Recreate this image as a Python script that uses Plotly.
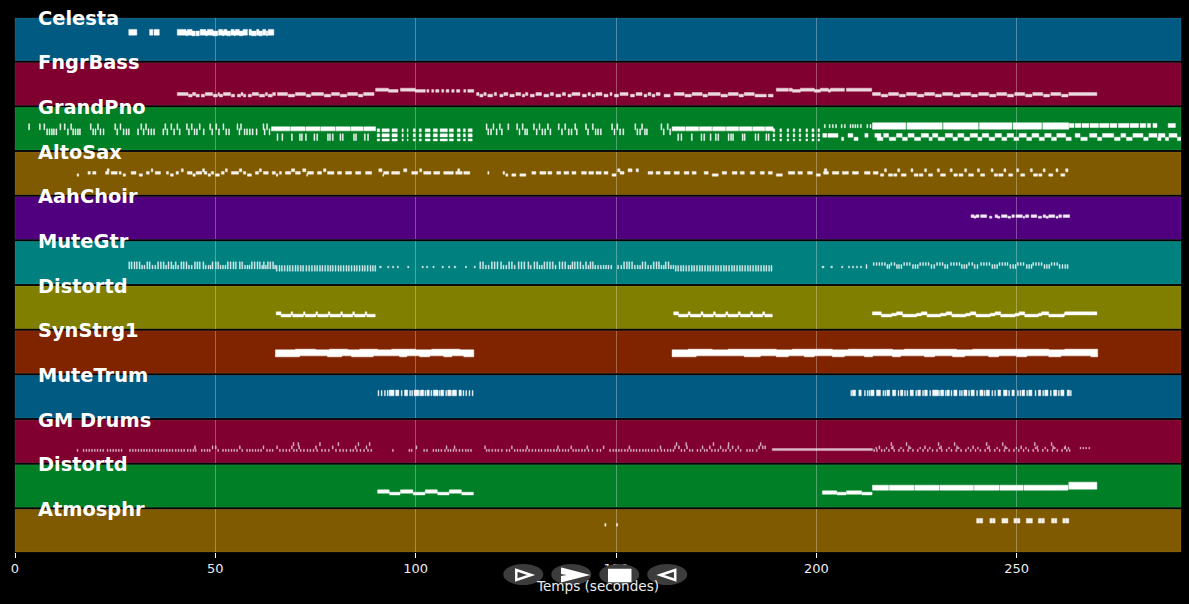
import plotly.graph_objects as go
from plotly.subplots import make_subplots

TICK_LEN = 0.22
X_TICKS = [0, 50, 100, 150, 200, 250]
X_MAX = 291

NAMES = ["Celesta", "FngrBass", "GrandPno", "AltoSax", "AahChoir", "MuteGtr",
         "Distortd", "SynStrg1", "MuteTrum", "GM Drums", "Distortd", "Atmosphr"]
COLORS = ["#005a82", "#80002f", "#007f26", "#805a00", "#50007f", "#00807f",
          "#807f00", "#802400", "#005a82", "#80002f", "#007f26", "#805a00"]
NOTE_OPACITY = [1, 0.85, 1, 0.92, 0.92, 0.88, 1, 1, 0.95, 0.72, 1, 0.92]

# A span is either (start, end) in seconds or one start time for a very short note.
celesta_main = [(28.4, 30.4), (33.6, 34.4), (34.7, 36.0), (40.5, 42.7), (43.0, 44.2), (46.2, 47.6),
                (48.0, 49.4), (50.8, 51.8), (52.1, 52.9), (53.9, 54.7), (55.0, 56.0), (56.9, 58.0),
                (58.4, 59.0), (60.3, 60.9), (61.8, 62.6), (63.2, 64.6)]
celesta_low = [(44.3, 45.0), (45.2, 46.0), (47.6, 48.0), (49.5, 50.6), (52.9, 53.8), (59.0, 60.2),
               (61.0, 61.7), (62.7, 63.1), (42.7, 43.0), (44.2, 44.4), (49.4, 49.6), (51.8, 52.1), (54.7, 55.0),
               (56.0, 56.9), (60.9, 61.0)]
bass_row = [(40.5, 43.2), (44.3, 45.1), (47.5, 49.3), (50.7, 51.0), (52.0, 53.8), (56.4, 56.9),
            (59.2, 60.8), (62.5, 63.0), (64.3, 65.0), (65.5, 68.0), (70.0, 72.5), (74.0, 77.0),
            (79.0, 81.0), (83.0, 85.5), (87.0, 89.6), (115.2, 115.8), (117.0, 117.6), (119.6, 120.2),
            (122.0, 123.0), (125.0, 126.2), (127.4, 128.0), (130.0, 131.4), (133.6, 134.4), (136.6, 137.4),
            (139.0, 141.0), (143.0, 143.6), (145.0, 146.5), (148.5, 149.0), (151.0, 153.0), (155.0, 156.5),
            (158.0, 158.7), (160.0, 161.0), (164.5, 167.0), (169.0, 171.5), (173.0, 176.0), (178.0, 180.5),
            (182.0, 184.5), (214.0, 216.0), (218.0, 220.5), (222.5, 225.0), (227.0, 229.5), (231.5, 234.0),
            (236.0, 238.5), (240.5, 243.0), (245.0, 247.5), (249.5, 252.0), (254.0, 256.5), (258.5, 261.0),
            (263.0, 270.0)]
bass_low = [(43.3, 44.2), (45.2, 46.0), (46.5, 47.3), (49.5, 50.5), (51.0, 51.8), (54.0, 54.8),
            (55.5, 56.3), (57.0, 57.6), (58.2, 59.0), (61.0, 62.3), (63.2, 64.2), (68.2, 69.8),
            (72.7, 73.8), (77.2, 78.8), (81.2, 82.8), (85.7, 86.8), (116.0, 116.8), (118.0, 119.2),
            (121.0, 121.8), (123.5, 124.6), (126.6, 127.2), (128.6, 129.6), (132.0, 133.2), (135.0, 136.2),
            (138.0, 138.8), (141.6, 142.6), (144.0, 144.7), (147.0, 148.0), (149.6, 150.6), (153.6, 154.6),
            (157.0, 157.7), (159.0, 159.7), (162.0, 163.5), (167.2, 168.8), (171.7, 172.8), (176.2, 177.8),
            (180.7, 181.8), (184.7, 187.5), (188.0, 189.2), (216.2, 217.8), (220.7, 222.2), (225.2, 226.8),
            (229.7, 231.2), (234.2, 235.8), (238.7, 240.2), (243.2, 244.8), (247.7, 249.2), (252.2, 253.8),
            (256.7, 258.2), (261.2, 262.8)]
bass_high = [(90.0, 93.2), (96.2, 99.9), (190.0, 193.0), (193.2, 194.0), (196.0, 199.5), (201.0, 203.0),
             (203.5, 207.0), (207.5, 213.8)]
bass_mid = [(93.2, 95.6), (99.9, 102.4), (102.8, 103.3), (104.0, 104.5), (105.0, 105.8), (106.5, 107.0),
            (107.6, 108.3), (109.0, 109.6), (110.2, 111.0), (112.0, 112.5), (113.0, 114.5), (194.0, 196.0),
            (199.5, 201.0), (203.0, 203.5)]

piano_upper = [3.4, 6.1, 7.2, 11.2, 12.3, 13.9, 18.8, 20.6, 24.9, 26.2, 31.4, 32.6, 37.4, 38.9, 40.4,
               42.8, 44.0, 46.0, 48.6, 50.1, 51.9, 55.4, 56.3, 61.9, 62.8, 117.6, 119.3, 120.9, 123.0,
               125.2, 126.6, 129.4, 130.8, 132.9, 135.6, 137.2, 139.7, 142.4, 144.1, 148.9, 150.2, 154.7,
               156.4, 161.2, 162.8]
piano_lower = [7.9, 8.5, 9.1, 9.6, 10.2, 13.1, 14.4, 15.0, 15.6, 16.1, 19.4, 20.0, 21.2, 22.0, 25.4,
               27.0, 27.7, 28.3, 30.6, 32.0, 33.2, 33.9, 34.6, 36.9, 37.9, 39.6, 41.0, 43.3, 44.7, 45.3,
               47.0, 49.1, 50.8, 52.6, 53.3, 55.9, 57.2, 57.8, 58.5, 59.2, 60.2, 62.2, 63.4, 118.0,
               118.7, 120.1, 121.4, 125.8, 127.2, 127.7, 130.1, 131.5, 132.2, 133.5, 136.4, 138.1, 138.8,
               140.1, 142.9, 144.8, 145.4, 146.1, 149.5, 150.9, 151.7, 155.2, 155.9, 157.1, 157.6, 161.8,
               163.4]
piano_row_a = [(64.0, 68.6), (68.8, 72.4), (72.6, 76.1), (76.3, 79.9), (80.1, 83.6), (83.8, 86.9), (87.1, 90.0),
               (164.0, 167.2), (167.4, 170.6), (170.8, 173.9), (174.1, 177.3), (177.5, 180.6), (180.8, 183.9),
               (184.1, 187.1), (187.3, 189.2)]
piano_lower_ticks = [65.4, 66.6, 69.0, 71.0, 71.5, 72.5, 74.6, 75.3, 78.0, 78.5, 79.2, 81.1, 81.7, 84.5, 85.0,
                     87.2, 88.0, 165.4, 166.2, 168.8, 171.2, 171.9, 173.5, 174.8, 175.4, 178.0, 178.6, 179.1,
                     181.5, 182.0, 184.7, 185.4, 187.4, 188.0]
piano_col_a = [(90.4, 91.0), (91.6, 93.4), (94.1, 95.4), (96.6, 96.9), (97.9, 98.1), (99.4, 99.9), (100.9, 101.4),
               (102.4, 103.6), (104.4, 105.4), (106.1, 107.9), (108.4, 109.4), (110.4, 111.1), (111.9, 112.4),
               (113.1, 114.1), (189.2, 189.6), (190.9, 191.3), (192.7, 193.1), (194.2, 194.6), (195.7, 196.1),
               (197.4, 197.8), (198.9, 199.4), (200.4, 200.8)]
piano_col_rows = [(54, 63), (39, 48), (27, 33)]
piano_top_ticks = [202.0, 203.2, 204.0, 204.8, 206.2, 207.0, 208.4, 209.0, 209.6, 210.2, 211.0, 212.6, 213.4]
piano_top_thick = [(214.0, 222.3), (222.6, 231.4), (231.7, 240.4), (240.7, 248.8), (249.1, 256.2), (256.5, 263.0)]
piano_top_thin = [(263.1, 264.3), (264.6, 266.0), (266.3, 268.0), (268.3, 270.4), (270.7, 273.0), (273.3, 275.0),
                  (275.4, 278.0), (278.3, 280.4), (280.8, 282.2), (282.6, 283.4), (284.0, 285.0), (287.8, 289.6)]
piano_mid_a = [(201.6, 202.6), (202.9, 205.4), (207.9, 209.1), (212.1, 212.9), (214.6, 216.1), (216.8, 218.0),
               (220.0, 221.4), (222.9, 224.4), (226.2, 228.0), (229.0, 230.3), (232.2, 234.0), (235.3, 236.8),
               (238.4, 240.2), (241.4, 243.0), (244.6, 246.2), (247.6, 249.2), (250.6, 252.4), (253.8, 255.5),
               (257.0, 258.6), (260.0, 262.2), (264.6, 265.8), (268.2, 270.0), (271.4, 274.2), (276.0, 277.2),
               (279.0, 281.5), (283.0, 285.0), (285.4, 287.0), (288.0, 290.0)]
piano_mid_b = [(206.3, 206.8), (209.4, 210.4), (215.2, 216.6), (218.2, 219.8), (221.5, 222.7), (224.5, 226.0),
               (228.1, 228.9), (230.4, 232.0), (234.1, 235.2), (236.9, 238.2), (240.3, 241.3), (243.1, 244.5),
               (246.3, 247.5), (249.3, 250.5), (252.5, 253.7), (255.6, 256.9), (258.7, 259.9), (262.3, 263.6),
               (266.0, 267.6), (270.2, 271.2), (274.4, 275.8), (277.4, 278.8), (281.7, 282.8), (285.2, 286.0),
               (287.1, 287.9), (290.1, 291.0)]

sax_mid = [(18.2, 18.8), (19.4, 20.2), (22.6, 23.4), (24.0, 25.5), (26.0, 26.5), (29.0, 30.2), (32.8, 33.5),
           (35.0, 36.3), (37.8, 38.3), (40.2, 40.8), (43.0, 44.2), (45.2, 46.6), (47.2, 47.9), (49.0, 49.6),
           (51.5, 52.2), (54.0, 55.8), (57.0, 57.6), (60.0, 60.8), (62.0, 63.2), (64.2, 65.0), (66.0, 66.5),
           (67.5, 68.8), (70.0, 71.2), (73.0, 74.5), (75.5, 76.5), (78.0, 79.6), (80.5, 81.5), (82.5, 84.0),
           (85.0, 86.3), (87.5, 89.0), (92.0, 93.3), (94.0, 96.0), (99.0, 100.5), (102.0, 103.8), (104.5, 106.0),
           (107.0, 109.4), (110.0, 111.6), (112.0, 113.5), (118.0, 118.3), (121.8, 122.2), (121.9, 122.0),
           (129.0, 130.0), (131.0, 132.5), (133.0, 134.0), (135.2, 136.2), (137.0, 138.2), (139.0, 140.0),
           (141.4, 142.6), (143.2, 144.4), (145.0, 146.3), (147.0, 148.0), (151.0, 152.0), (158.0, 159.2),
           (160.0, 161.0), (162.0, 163.5), (164.5, 165.8), (167.0, 168.2), (169.0, 170.0), (172.0, 173.0),
           (176.5, 177.6), (179.0, 180.2), (181.0, 182.0), (183.5, 184.6), (186.0, 187.0), (188.0, 189.0),
           (193.0, 194.6), (195.4, 196.5), (197.8, 199.0), (201.8, 203.0), (204.0, 205.6), (206.5, 208.0),
           (209.0, 210.5), (212.0, 213.4), (214.2, 215.4)]
sax_high = [(23.0, 23.5), (34.0, 34.4), (41.5, 42.0), (46.8, 47.3), (52.5, 53.0), (56.0, 56.6), (61.0, 61.5),
            (69.0, 69.8), (71.8, 72.6), (77.0, 77.6), (90.8, 91.6), (97.0, 97.8), (101.0, 101.5), (110.5, 111.0),
            (150.4, 151.0), (153.0, 154.0), (155.0, 155.6), (202.0, 202.6), (217.0, 217.5), (220.3, 220.8),
            (223.6, 224.1), (227.0, 227.5), (230.2, 230.7), (233.4, 233.9), (237.0, 237.5), (240.2, 240.7),
            (243.6, 244.1), (246.8, 247.3), (250.0, 250.5), (253.4, 253.9), (256.6, 257.1), (259.8, 260.3),
            (262.2, 262.8)]
sax_low = [(15.5, 15.9), (27.0, 27.6), (31.0, 31.8), (38.8, 39.5), (44.4, 45.0), (48.2, 48.8), (50.0, 51.0),
           (58.0, 59.0), (65.2, 65.6), (72.8, 73.0), (91.8, 92.0), (122.5, 123.0), (124.0, 125.0), (126.0, 127.5),
           (149.0, 150.0), (174.0, 175.5), (190.0, 191.5), (200.0, 201.0), (216.0, 216.8), (218.0, 219.0),
           (219.3, 220.1), (221.2, 222.4), (224.4, 225.4), (225.7, 226.6), (228.0, 229.0), (231.0, 232.2),
           (234.3, 235.2), (235.6, 236.6), (238.0, 239.2), (241.0, 242.0), (244.4, 245.2), (245.5, 246.6),
           (248.0, 249.0), (251.0, 252.0), (254.2, 255.2), (255.5, 256.3), (258.0, 259.0), (261.0, 262.0)]

choir_row = [(238.6, 239.4), (239.8, 240.6), (241.0, 242.5), (244.6, 245.2), (246.2, 247.6), (248.8, 249.4),
             (249.8, 251.4), (252.2, 253.0), (253.6, 255.0), (256.6, 257.2), (258.0, 259.5), (260.5, 261.2),
             (261.6, 263.2)]
choir_low = [(239.3, 239.8), (243.2, 243.8), (245.2, 245.8), (247.8, 248.5), (251.6, 252.0), (255.4, 256.2),
             (257.3, 257.9), (259.8, 260.3)]

gtr_tall_a = [28.4, 29.0, 29.7, 30.3, 31.0, 32.9, 33.5, 35.6, 36.3, 37.0, 38.2, 38.9, 40.0, 41.4, 42.0, 42.7,
              44.8, 45.4, 46.0, 46.9, 49.2, 50.0, 50.6, 53.0, 53.7, 54.4, 55.0, 56.0, 56.6, 59.0, 59.7, 60.4,
              61.0, 62.0, 63.0, 63.6, 64.3,
              116.0, 116.7, 118.9, 119.6, 120.3, 121.2, 123.2, 123.9, 125.6, 126.3, 127.0, 128.0, 129.5, 130.2,
              132.0, 132.7, 133.4, 134.1, 135.8, 136.5, 137.2, 139.0, 139.6, 140.3, 141.0, 142.4, 143.5, 144.1,
              151.9, 152.6, 153.2, 153.9, 156.5, 157.2, 159.3, 160.0, 160.6, 162.3, 163.0]
gtr_mid_a = [31.6, 32.2, 34.2, 34.9, 37.6, 39.4, 40.6, 43.3, 44.0, 47.5, 48.2, 48.7, 51.2, 51.8, 52.4, 57.3, 57.9,
             58.4, 61.6, 62.5, 64.8, 117.4, 118.1, 121.8, 122.5, 124.6, 128.6, 130.8, 131.4, 134.8, 138.0, 138.5,
             141.7, 143.0, 144.7, 145.4, 146.1, 146.8, 150.4, 151.2, 154.6, 155.3, 155.9, 157.9, 158.6, 161.2,
             161.8, 163.6, 164.2, 147.4, 148.0, 148.7]
gtr_low_b = [65.2, 65.9, 66.5, 67.2, 67.9, 68.5, 69.2, 69.9, 70.5, 71.2, 71.8, 72.6, 73.3, 74.0, 74.7, 75.3, 76.0,
             76.6, 77.3, 78.0, 78.6, 79.2, 79.9, 80.6, 81.2, 81.9, 82.6, 83.2, 83.9, 84.6, 85.2, 85.9, 86.6, 87.2,
             87.9, 88.6, 89.2, 89.8, 164.8, 165.4, 166.1, 166.7, 167.4, 168.1, 168.8, 169.4, 170.1, 170.8, 171.4,
             172.1, 172.8, 173.4, 174.1, 174.8, 175.4, 176.1, 176.8, 177.4, 178.1, 178.8, 179.4, 180.1, 180.8,
             181.4, 182.1, 182.8, 183.4, 184.1, 184.8, 185.4, 186.1, 186.8, 187.4, 188.1, 188.7]
gtr_dots = [(91.0, 91.4), (93.0, 93.3), (94.2, 94.5), (95.4, 95.7), (98.0, 98.3), (101.6, 101.9), (102.7, 103.0),
            (104.3, 104.6), (106.6, 106.9), (108.2, 108.5), (109.6, 110.0), (112.4, 112.7), (114.6, 114.9),
            (201.4, 201.9), (203.6, 204.0), (206.3, 206.6), (208.0, 208.3), (209.0, 209.3), (210.0, 210.3),
            (211.0, 211.3)]
gtr_high_c = [214.2, 214.9, 215.6, 216.3, 217.0, 218.6, 219.4, 221.8, 222.5, 223.2, 225.8, 226.5, 227.2, 227.9,
              230.0, 230.7, 231.4, 233.5, 234.2, 234.9, 235.6, 238.0, 238.8, 241.0, 241.7, 242.4, 243.1, 245.6,
              246.3, 247.0, 247.6, 250.2, 250.9, 251.6, 254.0, 254.7, 255.4, 256.1, 258.6, 259.3, 260.0]
gtr_low_c = [212.4, 217.6, 218.1, 220.0, 220.5, 221.1, 224.0, 224.6, 225.2, 228.6, 229.3, 232.0, 232.6, 236.2,
             236.8, 237.4, 239.4, 240.1, 243.8, 244.4, 245.0, 248.3, 249.0, 249.6, 252.4, 253.0, 253.6, 256.8,
             257.4, 258.0, 260.6, 261.3, 262.0, 262.6]

dist_high = [(65.2, 66.4), (68.9, 69.3), (72.0, 72.4), (75.1, 75.5), (78.2, 78.6), (81.3, 81.7), (84.3, 84.7),
             (87.4, 87.8), (164.4, 165.6), (168.0, 168.5), (171.2, 171.7), (174.3, 174.8), (177.4, 177.9),
             (180.5, 181.0), (183.6, 184.1), (186.6, 187.1), (214.0, 216.2), (220.0, 221.5), (226.2, 227.6),
             (232.4, 233.8), (238.4, 239.8), (244.6, 246.0), (250.6, 252.0), (256.2, 258.0), (262.0, 270.0)]
dist_low = [(66.4, 68.9), (69.3, 72.0), (72.4, 75.1), (75.5, 78.2), (78.6, 81.3), (81.7, 84.3), (84.7, 87.4),
            (87.8, 89.9), (165.6, 168.0), (168.5, 171.2), (171.7, 174.3), (174.8, 177.4), (177.9, 180.5),
            (181.0, 183.6), (184.1, 186.6), (187.1, 189.0), (216.2, 218.8), (221.5, 223.0), (223.0, 225.0),
            (227.6, 229.0), (229.0, 231.0), (233.8, 235.2), (235.2, 237.3), (239.8, 241.0), (241.0, 243.4),
            (246.0, 247.4), (247.4, 249.6), (252.0, 253.4), (253.4, 255.4), (258.0, 259.4), (259.4, 261.8)]
dist_mid = [(218.8, 220.0), (225.0, 226.2), (231.0, 232.4), (237.3, 238.4), (243.4, 244.6), (249.6, 250.6),
            (255.4, 256.2), (261.8, 262.0)]

strings_main = [(65.0, 114.5), (164.0, 270.2)]
strings_under = [(65.0, 71.0), (78.0, 81.5), (84.0, 89.4), (96.0, 97.8), (101.0, 103.5),
                 (107.0, 109.0), (112.0, 114.5), (164.0, 170.0), (182.0, 186.0), (190.0, 193.0),
                 (197.0, 199.5), (204.0, 207.0), (212.0, 214.0), (219.0, 221.0), (227.0, 229.5), (234.0, 237.0),
                 (243.0, 245.5), (250.0, 252.5), (258.0, 261.0), (268.5, 270.2)]
strings_over = [(70.0, 75.0), (78.5, 83.0), (86.0, 90.5), (94.0, 100.0), (104.0, 111.0), (168.0, 174.0), (178.0, 190.0),
                (194.0, 204.0), (208.0, 219.0), (222.0, 235.0), (239.0, 258.0), (262.0, 270.2)]

trumpet_blobs = [(93.4, 94.6), (95.0, 95.8), (97.2, 98.0), (99.6, 100.8), (101.3, 102.0), (102.8, 103.4), (104.4, 105.6),
                 (106.3, 107.0), (108.0, 108.8), (109.3, 110.2), (110.8, 111.4), (209.0, 209.8), (210.6, 211.2),
                 (213.6, 214.4), (215.0, 216.0), (217.6, 218.3), (219.0, 219.8), (221.0, 221.6), (223.4, 224.2),
                 (225.3, 226.0), (227.0, 227.7), (229.0, 230.4), (231.0, 231.8), (232.6, 233.2), (234.3, 235.1),
                 (236.8, 237.6), (238.6, 239.4), (240.8, 241.6), (242.4, 243.2), (245.3, 246.0), (246.7, 247.6),
                 (248.8, 249.4), (251.3, 252.0), (253.0, 253.8), (255.4, 256.0), (257.0, 257.8), (259.2, 260.0),
                 (261.0, 261.8), (262.6, 263.2)]
trumpet_ticks = [90.6, 91.4, 92.2, 92.9, 96.4, 98.5, 99.0, 101.0, 102.3, 103.8, 105.9, 107.5, 109.0, 111.8, 112.5,
                 113.3, 114.1, 208.6, 212.0, 212.7, 213.2, 216.6, 217.1, 220.4, 222.0, 222.6, 224.8, 226.5, 228.3,
                 230.5, 232.2, 233.6, 235.7, 236.2, 238.0, 240.0, 241.9, 243.8, 244.5, 248.0, 250.2, 250.8, 252.5,
                 254.6, 256.5, 258.4, 260.4, 263.4]

drums_row = [15.5, 17.0, 17.7, 18.4, 19.1, 19.8, 20.5, 21.2, 21.9, 23.0, 23.7, 24.4, 25.1, 25.8, 26.5, 28.6, 29.3,
             30.0, 30.7, 31.4, 32.1, 32.8, 33.5, 34.2, 35.0, 35.7, 36.4, 37.1, 37.8, 38.5, 39.2, 40.0, 40.7, 41.4,
             42.1, 43.0, 43.7, 44.4, 45.0, 46.5, 47.2, 47.9, 48.5, 50.6, 51.8, 52.5, 53.2, 53.9, 54.6, 55.3, 56.6,
             57.8, 58.5, 59.2, 59.9, 60.6, 61.3, 62.8, 63.5, 64.2, 66.0, 66.8, 67.6, 68.4, 69.5, 70.2, 71.2, 72.0,
             72.9, 73.6, 74.4, 75.3, 76.5, 77.3, 78.2, 80.0, 81.0, 81.8, 82.6, 83.6, 84.3, 85.2, 86.1, 87.0, 88.0,
             88.8, 94.2, 98.3, 98.9, 102.0, 102.7, 104.3, 105.0, 105.6, 106.3, 107.2, 108.0, 108.6, 109.3, 110.0,
             110.8, 111.6, 112.4, 113.0, 113.7, 117.6, 118.2, 119.0, 119.8, 120.5, 121.4, 122.6, 123.3, 124.6, 125.3,
             126.0, 126.7, 127.4, 128.2, 129.0, 129.8, 130.6, 131.3, 132.2, 132.9, 133.6, 134.4, 135.1, 135.8,
             136.6, 137.3, 138.0, 139.2, 139.9, 140.6, 141.4, 142.1, 143.0, 144.0, 145.2, 146.0, 148.4, 149.2, 149.9,
             150.6, 151.3, 152.1, 152.8, 153.6, 154.3, 155.0, 155.8, 156.6, 157.3, 158.0, 158.8, 159.5, 160.3, 161.2,
             162.0, 162.8, 163.5, 164.2, 166.2, 167.0, 168.3, 169.0, 170.2, 171.0, 172.0, 172.6, 173.8, 174.6, 175.4,
             176.6, 177.3, 178.4, 179.8, 181.0, 182.6, 183.3, 184.0, 185.0,
             214.3, 215.0, 216.2, 216.9, 218.0, 219.3, 220.5, 221.6, 222.8, 224.0, 225.2, 226.5, 227.7, 228.9, 230.0,
             231.2, 232.4, 233.6, 234.8, 236.0, 237.2, 238.4, 239.6, 240.8, 242.0, 243.2, 244.4, 245.6, 246.8, 248.0,
             249.2, 250.4, 251.6, 252.8, 254.0, 255.2, 256.4, 257.6, 258.8, 260.0, 261.2, 262.4, 263.1]
drums_mid = [214.8, 217.4, 218.7, 221.0, 223.4, 225.8, 228.2, 230.6, 233.0, 235.4, 237.8, 240.2, 242.6, 245.0, 247.4,
             249.8, 252.2, 254.6, 257.0, 259.4, 261.8, 262.8, 265.8, 266.5, 267.2, 268.0]
drums_upper = [44.8, 49.2, 50.0, 56.0, 61.9, 65.3, 69.0, 70.8, 75.0, 79.2, 84.9, 87.6, 100.1, 107.6, 109.6, 117.2, 123.9,
               127.7, 135.4, 138.7, 142.7, 146.8, 153.2, 161.0, 164.6, 165.6, 167.6, 171.5, 173.3, 176.0, 177.9,
               179.0, 180.4, 185.6, 186.5, 187.1, 215.6, 219.0, 223.0, 227.0, 231.0, 235.0, 239.0, 243.0, 247.0,
               251.0, 255.0, 259.0, 262.0]
drums_top = [69.4, 70.6, 76.0, 80.6, 85.6, 88.4, 165.0, 167.4, 174.2, 178.0, 186.0, 218.6, 222.4, 230.4, 234.4, 242.4,
             246.4, 254.4, 258.6]
drums_line = [(189.0, 214.0)]

dist2_high = [(90.5, 93.4), (96.2, 99.3), (102.4, 105.4), (108.4, 111.4)]
dist2_low = [(93.5, 96.1), (99.4, 102.3), (105.5, 108.3), (111.5, 114.4), (205.2, 207.4), (211.4, 213.9)]
dist2_mid = [(201.5, 205.1), (207.5, 211.3)]
dist2_top = [(214.0, 218.0), (218.2, 224.4), (224.6, 230.6), (230.8, 239.2), (239.4, 245.6), (245.8, 251.6), (251.8, 262.8)]
dist2_end = [(263.0, 270.0)]

atmos_dots = [(147.2, 147.5), (150.1, 150.4)]
atmos_blocks = [(240.0, 240.7), (240.8, 241.5), (243.3, 243.9), (244.0, 244.6), (246.3, 247.8), (249.3, 250.0),
                (250.1, 250.8), (252.4, 253.9), (255.4, 256.1), (256.2, 256.9), (258.7, 259.3), (259.4, 260.0),
                (261.5, 262.2), (262.3, 263.0)]

# Every track: list of (spans, lowest pitch, highest pitch), pitch axis 0-127.
TRACKS = [
    [(celesta_main, 76, 93), (celesta_low, 74, 88)],
    [(bass_row, 29, 38), (bass_low, 25, 33), (bass_high, 42, 51), (bass_mid, 39, 47)],
    [(piano_upper, 60, 78), (piano_lower, 45, 63), (piano_row_a, 57, 69), (piano_lower_ticks, 28, 48)]
    + [(piano_col_a, lo, hi) for lo, hi in piano_col_rows]
    + [(piano_top_ticks, 66, 76), (piano_top_thick, 62, 81), (piano_top_thin, 67, 79),
       (piano_mid_a, 38, 49), (piano_mid_b, 28, 38)],
    [(sax_mid, 61, 69), (sax_high, 68, 77), (sax_low, 55, 62)],
    [(choir_row, 65, 73), (choir_low, 63, 69)],
    [(gtr_tall_a, 45, 66), (gtr_mid_a, 45, 56), (gtr_low_b, 38, 55), (gtr_dots, 48, 53), (gtr_high_c, 55, 64),
     (gtr_low_c, 46, 58)],
    [(dist_high, 41, 50), (dist_low, 35, 43), (dist_mid, 38, 46)],
    [(strings_main, 52, 70), (strings_under, 49, 53), (strings_over, 69, 72)],
    [(trumpet_blobs, 66, 83), (trumpet_ticks, 66, 82)],
    [(drums_row, 33, 40), (drums_mid, 41, 46), (drums_upper, 41, 50), (drums_top, 50, 60), (drums_line, 36, 42)],
    [(dist2_high, 42, 52), (dist2_low, 37, 45), (dist2_mid, 39, 49), (dist2_top, 51, 66), (dist2_end, 54, 75)],
    [(atmos_dots, 77, 85), (atmos_blocks, 86, 100)],
]

W, H = 1189, 604
LEFT, RIGHT, TOP, BOTTOM = 14.5, 8, 18, 52
plot_w, plot_h = W - LEFT - RIGHT, H - TOP - BOTTOM

fig = make_subplots(rows=12, cols=1, shared_xaxes=True, vertical_spacing=2 / plot_h)

for i, (name, color, rows, alpha) in enumerate(zip(NAMES, COLORS, TRACKS, NOTE_OPACITY), start=1):
    xs, ys = [], []
    for spans, lo, hi in rows:
        for span in spans:
            s, e = span if isinstance(span, tuple) else (span, span + TICK_LEN)
            xs += [s, e, e, s, s, None]
            ys += [lo, lo, hi, hi, lo, None]
    fig.add_trace(go.Scatter(x=xs, y=ys, mode="lines", fill="toself", fillcolor="#ffffff", opacity=alpha,
                             line=dict(color="rgba(255,255,255,0.6)", width=0.8),
                             hoverinfo="skip", showlegend=False), row=i, col=1)
    fig.update_yaxes(range=[0, 127], visible=False, fixedrange=True, row=i, col=1)
    axis = "" if i == 1 else str(i)
    fig.add_shape(type="rect", xref=f"x{axis} domain", yref=f"y{axis} domain", x0=0, x1=1, y0=0, y1=1,
                  fillcolor=color, line=dict(color="rgba(255,255,255,0.2)", width=0.5), layer="below")
    fig.add_annotation(text=f"<b>{name}</b>", xref=f"x{axis} domain", yref=f"y{axis} domain",
                       x=(36 - LEFT) / plot_w, y=1, xanchor="left", yanchor="middle", showarrow=False,
                       font=dict(family="DejaVu Sans", size=19.4, color="white"))

fig.update_xaxes(range=[0, X_MAX], tickvals=X_TICKS, showgrid=True, gridcolor="rgba(255,255,255,0.3)", gridwidth=1,
                 zeroline=False, showline=False, fixedrange=True)
fig.update_xaxes(ticks="outside", ticklen=5, tickcolor="white", tickwidth=1, ticklabelstandoff=-1,
                 tickfont=dict(family="DejaVu Sans", size=13, color="#ececec"),
                 title=dict(text="Temps (secondes)", font=dict(family="DejaVu Sans", size=13.6, color="#ececec"), standoff=6),
                 row=12, col=1)


def px(x):
    return (x - LEFT) / plot_w


def py(y):
    return 1 - (y - TOP) / plot_h


def path(points):
    return "M" + " L".join(f"{px(x):.5f},{py(y):.5f}" for x, y in points) + " Z"


for cx in (523, 571, 619, 667):
    fig.add_shape(type="circle", xref="paper", yref="paper", x0=px(cx - 20), x1=px(cx + 20), y0=py(585), y1=py(564),
                  fillcolor="#3c3c3c", line_width=0, layer="above")
for pts, fill in [
    ([(516, 570), (531, 575), (516, 580)], "#3c3c3c"),
    ([(562, 569), (585, 575), (562, 581), (562, 577), (574, 575), (562, 573)], "white"),
    ([(609, 570), (630, 570), (630, 581), (609, 581)], "white"),
    ([(675, 570), (660, 575), (675, 580)], "#3c3c3c"),
]:
    fig.add_shape(type="path", xref="paper", yref="paper", path=path(pts), fillcolor=fill,
                  line=dict(color="white", width=2.5), layer="above")

fig.update_layout(width=W, height=H, paper_bgcolor="black", plot_bgcolor="black", showlegend=False,
                  margin=dict(l=LEFT, r=RIGHT, t=TOP, b=BOTTOM))

fig.write_html("out.html", config={"displayModeBar": False},
               post_script="document.body.style.margin='0';document.body.style.background='#000';")
